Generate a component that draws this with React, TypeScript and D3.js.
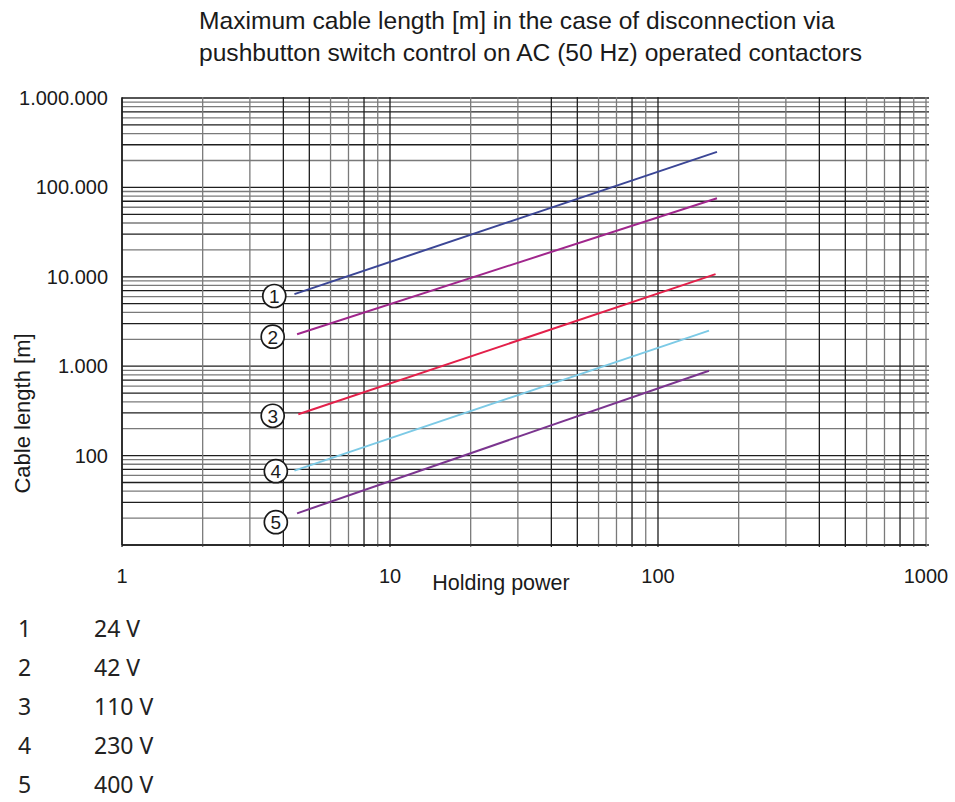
import React from 'react';
import * as d3 from 'd3';

// ---------- data ----------
const seriesIds = ['1', '2', '3', '4', '5'];
const voltages = ['24 V', '42 V', '110 V', '230 V', '400 V'];
const powerStart = [4.4, 4.5, 4.55, 4.4, 4.5];
const powerEnd = [166, 166, 164, 155, 155];
const lengthStart = [6400, 2280, 290, 68, 22.6];
const lengthEnd = [250000, 75500, 10700, 2500, 890];
const labelPower = [3.7, 3.65, 3.65, 3.75, 3.75];
const labelLength = [6100, 2140, 279, 67, 18];
const seriesColors = ['#3b4696', '#a0268c', '#e3204a', '#7ccae6', '#7b358f'];

const xTickValues = [1, 10, 100, 1000];
const xTickLabels = ['1', '10', '100', '1000'];
const yTickValues = [100, 1000, 10000, 100000, 1000000];
const yTickLabels = ['100', '1.000', '10.000', '100.000', '1.000.000'];
const minorMultipliers = [1, 2, 3, 4, 5, 6, 7, 8, 9];
const xGridTone = ['#1e1e1e', '#7a7a7a', '#7a7a7a', '#1e1e1e', '#1e1e1e', '#7a7a7a', '#7a7a7a', '#1e1e1e', '#7a7a7a'];
const yGridTone = ['#1e1e1e', '#7a7a7a', '#1e1e1e', '#7a7a7a', '#1e1e1e', '#7a7a7a', '#1e1e1e', '#7a7a7a', '#7a7a7a'];

const titleLines = [
  'Maximum cable length [m] in the case of disconnection via',
  'pushbutton switch control on AC (50 Hz) operated contactors',
];

const W = 955;
const H = 802;
const plot = { left: 122, right: 926, top: 98, bottom: 545 };

export default function App() {
  const x = d3.scaleLog().domain([1, 1000]).range([plot.left, plot.right]);
  const y = d3.scaleLog().domain([10, 1000000]).range([plot.bottom, plot.top]);

  const xGrid: { v: number; c: string }[] = [];
  [1, 10, 100].forEach((d) =>
    minorMultipliers.forEach((m, i) => xGrid.push({ v: d * m, c: xGridTone[i] }))
  );
  xGrid.push({ v: 1000, c: '#7a7a7a' });

  const yGrid: { v: number; c: string }[] = [];
  [10, 100, 1000, 10000, 100000].forEach((d) =>
    minorMultipliers.forEach((m, i) => yGrid.push({ v: d * m, c: yGridTone[i] }))
  );
  yGrid.push({ v: 1000000, c: '#1e1e1e' });

  const line = d3
    .line<[number, number]>()
    .x((d) => x(d[0]))
    .y((d) => y(d[1]));

  const font = "'Liberation Sans', Arial, sans-serif";

  return (
    <svg
      width={W}
      height={H}
      style={{ position: 'absolute', left: 0, top: 0, background: '#fff' }}
    >
      {/* title */}
      {titleLines.map((t, i) => (
        <text
          key={t}
          x={199}
          y={29 + i * 32}
          textAnchor="start"
          fontFamily={font}
          fontSize={24.6}
          fill="#1a1a1a"
        >
          {t}
        </text>
      ))}

      {/* grid */}
      <g>
        {yGrid.map((g, i) => (
          <line
            key={'h' + i}
            x1={plot.left}
            x2={plot.right + 3}
            y1={y(g.v)}
            y2={y(g.v)}
            stroke={g.c}
            strokeWidth={1.3}
          />
        ))}
        {xGrid.map((g, i) => (
          <line
            key={'v' + i}
            x1={x(g.v)}
            x2={x(g.v)}
            y1={plot.top - 1}
            y2={plot.bottom + 2}
            stroke={g.c}
            strokeWidth={1.3}
          />
        ))}
        <line x1={plot.left} x2={plot.right} y1={plot.bottom} y2={plot.bottom} stroke="#1e1e1e" strokeWidth={1.5} />
        <line x1={plot.left} x2={plot.left} y1={plot.top} y2={plot.bottom} stroke="#1e1e1e" strokeWidth={1.5} />
      </g>

      {/* series */}
      {seriesIds.map((id, i) => (
        <path
          key={'s' + id}
          d={line([
            [powerStart[i], lengthStart[i]],
            [powerEnd[i], lengthEnd[i]],
          ]) || ''}
          stroke={seriesColors[i]}
          strokeWidth={2}
          fill="none"
        />
      ))}

      {/* circle labels */}
      {seriesIds.map((id, i) => (
        <g key={'c' + id} transform={`translate(${x(labelPower[i])},${y(labelLength[i])})`}>
          <circle r={11.5} fill="#fff" stroke="#1a1a1a" strokeWidth={1.7} />
          <text
            y={7}
            textAnchor="middle"
            fontFamily={font}
            fontSize={19}
            fill="#1a1a1a"
          >
            {id}
          </text>
        </g>
      ))}

      {/* y ticks */}
      {yTickValues.map((v, i) => (
        <text
          key={'yt' + v}
          x={108}
          y={y(v) + 7}
          textAnchor="end"
          fontFamily={font}
          fontSize={20}
          fill="#1a1a1a"
        >
          {yTickLabels[i]}
        </text>
      ))}

      {/* x ticks */}
      {xTickValues.map((v, i) => (
        <text
          key={'xt' + v}
          x={x(v)}
          y={583}
          textAnchor="middle"
          fontFamily={font}
          fontSize={20}
          fill="#1a1a1a"
        >
          {xTickLabels[i]}
        </text>
      ))}

      <text x={501} y={590} textAnchor="middle" fontFamily={font} fontSize={21.5} fill="#1a1a1a">
        Holding power
      </text>
      <text
        transform={`translate(30,${(plot.top + plot.bottom) / 2 + 92}) rotate(-90)`}
        textAnchor="middle"
        fontFamily={font}
        fontSize={22}
        fill="#1a1a1a"
      >
        Cable length [m]
      </text>

      {/* legend */}
      {seriesIds.map((id, i) => (
        <g key={'l' + id} fontFamily="'Noto Sans', 'Open Sans', sans-serif" fontSize={23} fill="#222">
          <text x={18} y={637 + i * 39}>{id}</text>
          <text x={94} y={637 + i * 39}>{voltages[i]}</text>
        </g>
      ))}
    </svg>
  );
}
